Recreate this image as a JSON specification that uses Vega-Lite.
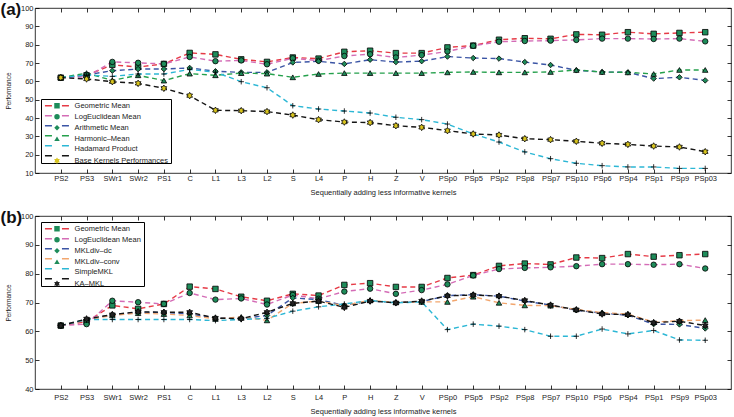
{
  "$schema": "https://vega.github.io/schema/vega-lite/v6.json",
  "padding": {"left": 0, "top": 0, "right": 0, "bottom": 0},
  "background": "white",
  "spacing": 11,
  "resolve": {"scale": {"color": "independent", "shape": "independent", "fill": "independent"}, "legend": {"color": "independent", "shape": "independent", "fill": "independent"}},
  "config": {
    "font": "Liberation Sans",
    "view": {"stroke": "#000", "strokeWidth": 0.8},
    "axis": {"grid": false, "domain": false, "tickColor": "#000", "tickWidth": 0.8, "tickSize": -4, "labelFont": "Liberation Sans", "labelFontSize": 7.5, "labelColor": "#222", "titleFont": "Liberation Sans", "titleFontWeight": "normal", "titleColor": "#222"},
    "legend": {"labelFont": "Liberation Sans", "labelFontSize": 7.5, "labelColor": "#222", "padding": 3, "rowPadding": 1, "symbolOffset": 9.25, "labelOffset": 13.8, "symbolSize": 30, "labelLimit": 200},
    "title": {"font": "Liberation Sans", "fontSize": 17, "fontWeight": "bold", "color": "#111", "anchor": "start", "frame": "bounds", "offset": 0}
  },
  "datasets": {
    "a": [
      {"k":"PS2","s":"Geometric Mean","v":62},{"k":"PS3","s":"Geometric Mean","v":63.3},{"k":"SWr1","s":"Geometric Mean","v":69},{"k":"SWr2","s":"Geometric Mean","v":67.8},{"k":"PS1","s":"Geometric Mean","v":69.5},{"k":"C","s":"Geometric Mean","v":75.5},{"k":"L1","s":"Geometric Mean","v":74.7},{"k":"L3","s":"Geometric Mean","v":72},{"k":"L2","s":"Geometric Mean","v":70.6},{"k":"S","s":"Geometric Mean","v":73},{"k":"L4","s":"Geometric Mean","v":72.4},{"k":"P","s":"Geometric Mean","v":76.1},{"k":"H","s":"Geometric Mean","v":76.7},{"k":"Z","s":"Geometric Mean","v":75.4},{"k":"V","s":"Geometric Mean","v":75.4},{"k":"PSp0","s":"Geometric Mean","v":78.5},{"k":"PSp5","s":"Geometric Mean","v":79.5},{"k":"PSp2","s":"Geometric Mean","v":82.7},{"k":"PSp8","s":"Geometric Mean","v":83.5},{"k":"PSp7","s":"Geometric Mean","v":83.2},{"k":"PSp10","s":"Geometric Mean","v":85.6},{"k":"PSp6","s":"Geometric Mean","v":85.4},{"k":"PSp4","s":"Geometric Mean","v":86.8},{"k":"PSp1","s":"Geometric Mean","v":85.9},{"k":"PSp9","s":"Geometric Mean","v":86.4},{"k":"PSp03","s":"Geometric Mean","v":86.8},
      {"k":"PS2","s":"LogEuclidean Mean","v":62},{"k":"PS3","s":"LogEuclidean Mean","v":62.5},{"k":"SWr1","s":"LogEuclidean Mean","v":70.6},{"k":"SWr2","s":"LogEuclidean Mean","v":70.1},{"k":"PS1","s":"LogEuclidean Mean","v":69.5},{"k":"C","s":"LogEuclidean Mean","v":73.3},{"k":"L1","s":"LogEuclidean Mean","v":71},{"k":"L3","s":"LogEuclidean Mean","v":71.4},{"k":"L2","s":"LogEuclidean Mean","v":69.3},{"k":"S","s":"LogEuclidean Mean","v":72.6},{"k":"L4","s":"LogEuclidean Mean","v":71.3},{"k":"P","s":"LogEuclidean Mean","v":73.8},{"k":"H","s":"LogEuclidean Mean","v":74.8},{"k":"Z","s":"LogEuclidean Mean","v":73},{"k":"V","s":"LogEuclidean Mean","v":74.3},{"k":"PSp0","s":"LogEuclidean Mean","v":76.3},{"k":"PSp5","s":"LogEuclidean Mean","v":79.4},{"k":"PSp2","s":"LogEuclidean Mean","v":81.6},{"k":"PSp8","s":"LogEuclidean Mean","v":82},{"k":"PSp7","s":"LogEuclidean Mean","v":82.2},{"k":"PSp10","s":"LogEuclidean Mean","v":82.6},{"k":"PSp6","s":"LogEuclidean Mean","v":83.3},{"k":"PSp4","s":"LogEuclidean Mean","v":83.3},{"k":"PSp1","s":"LogEuclidean Mean","v":83.1},{"k":"PSp9","s":"LogEuclidean Mean","v":83.3},{"k":"PSp03","s":"LogEuclidean Mean","v":81.8},
      {"k":"PS2","s":"Arithmetic Mean","v":62},{"k":"PS3","s":"Arithmetic Mean","v":63.5},{"k":"SWr1","s":"Arithmetic Mean","v":65.8},{"k":"SWr2","s":"Arithmetic Mean","v":66.7},{"k":"PS1","s":"Arithmetic Mean","v":66.7},{"k":"C","s":"Arithmetic Mean","v":67.3},{"k":"L1","s":"Arithmetic Mean","v":65.5},{"k":"L3","s":"Arithmetic Mean","v":64.9},{"k":"L2","s":"Arithmetic Mean","v":64.9},{"k":"S","s":"Arithmetic Mean","v":70.3},{"k":"L4","s":"Arithmetic Mean","v":70.9},{"k":"P","s":"Arithmetic Mean","v":69.5},{"k":"H","s":"Arithmetic Mean","v":71.8},{"k":"Z","s":"Arithmetic Mean","v":70.5},{"k":"V","s":"Arithmetic Mean","v":71},{"k":"PSp0","s":"Arithmetic Mean","v":73.5},{"k":"PSp5","s":"Arithmetic Mean","v":72.7},{"k":"PSp2","s":"Arithmetic Mean","v":72.4},{"k":"PSp8","s":"Arithmetic Mean","v":70.5},{"k":"PSp7","s":"Arithmetic Mean","v":68.9},{"k":"PSp10","s":"Arithmetic Mean","v":66},{"k":"PSp6","s":"Arithmetic Mean","v":65.1},{"k":"PSp4","s":"Arithmetic Mean","v":64.9},{"k":"PSp1","s":"Arithmetic Mean","v":61.5},{"k":"PSp9","s":"Arithmetic Mean","v":62.2},{"k":"PSp03","s":"Arithmetic Mean","v":60.5},
      {"k":"PS2","s":"Harmonic–Mean","v":62},{"k":"PS3","s":"Harmonic–Mean","v":64.5},{"k":"SWr1","s":"Harmonic–Mean","v":60.5},{"k":"SWr2","s":"Harmonic–Mean","v":63.3},{"k":"PS1","s":"Harmonic–Mean","v":60.4},{"k":"C","s":"Harmonic–Mean","v":64.2},{"k":"L1","s":"Harmonic–Mean","v":63.3},{"k":"L3","s":"Harmonic–Mean","v":64.5},{"k":"L2","s":"Harmonic–Mean","v":64.2},{"k":"S","s":"Harmonic–Mean","v":62.2},{"k":"L4","s":"Harmonic–Mean","v":64},{"k":"P","s":"Harmonic–Mean","v":64.5},{"k":"H","s":"Harmonic–Mean","v":64.5},{"k":"Z","s":"Harmonic–Mean","v":64.5},{"k":"V","s":"Harmonic–Mean","v":64.5},{"k":"PSp0","s":"Harmonic–Mean","v":64.9},{"k":"PSp5","s":"Harmonic–Mean","v":65.1},{"k":"PSp2","s":"Harmonic–Mean","v":64.9},{"k":"PSp8","s":"Harmonic–Mean","v":64.9},{"k":"PSp7","s":"Harmonic–Mean","v":65.1},{"k":"PSp10","s":"Harmonic–Mean","v":66.2},{"k":"PSp6","s":"Harmonic–Mean","v":65.1},{"k":"PSp4","s":"Harmonic–Mean","v":64.9},{"k":"PSp1","s":"Harmonic–Mean","v":64},{"k":"PSp9","s":"Harmonic–Mean","v":66.2},{"k":"PSp03","s":"Harmonic–Mean","v":66.2},
      {"k":"PS2","s":"Hadamard Product","v":62},{"k":"PS3","s":"Hadamard Product","v":63.5},{"k":"SWr1","s":"Hadamard Product","v":62.7},{"k":"SWr2","s":"Hadamard Product","v":64},{"k":"PS1","s":"Hadamard Product","v":64},{"k":"C","s":"Hadamard Product","v":66.5},{"k":"L1","s":"Hadamard Product","v":65},{"k":"L3","s":"Hadamard Product","v":59.8},{"k":"L2","s":"Hadamard Product","v":56.5},{"k":"S","s":"Hadamard Product","v":46.7},{"k":"L4","s":"Hadamard Product","v":44.9},{"k":"P","s":"Hadamard Product","v":43.8},{"k":"H","s":"Hadamard Product","v":42.7},{"k":"Z","s":"Hadamard Product","v":40.4},{"k":"V","s":"Hadamard Product","v":39.1},{"k":"PSp0","s":"Hadamard Product","v":36.7},{"k":"PSp5","s":"Hadamard Product","v":31.3},{"k":"PSp2","s":"Hadamard Product","v":26.9},{"k":"PSp8","s":"Hadamard Product","v":21.5},{"k":"PSp7","s":"Hadamard Product","v":17.8},{"k":"PSp10","s":"Hadamard Product","v":15.3},{"k":"PSp6","s":"Hadamard Product","v":14},{"k":"PSp4","s":"Hadamard Product","v":13.3},{"k":"PSp1","s":"Hadamard Product","v":13.3},{"k":"PSp9","s":"Hadamard Product","v":12.5},{"k":"PSp03","s":"Hadamard Product","v":12.5},
      {"k":"PS2","s":"Base Kernels Performances","v":62},{"k":"PS3","s":"Base Kernels Performances","v":61.3},{"k":"SWr1","s":"Base Kernels Performances","v":59.8},{"k":"SWr2","s":"Base Kernels Performances","v":58.9},{"k":"PS1","s":"Base Kernels Performances","v":56.2},{"k":"C","s":"Base Kernels Performances","v":52.2},{"k":"L1","s":"Base Kernels Performances","v":44.2},{"k":"L3","s":"Base Kernels Performances","v":44},{"k":"L2","s":"Base Kernels Performances","v":43.5},{"k":"S","s":"Base Kernels Performances","v":41.6},{"k":"L4","s":"Base Kernels Performances","v":39.1},{"k":"P","s":"Base Kernels Performances","v":37.8},{"k":"H","s":"Base Kernels Performances","v":37.5},{"k":"Z","s":"Base Kernels Performances","v":35.8},{"k":"V","s":"Base Kernels Performances","v":34.9},{"k":"PSp0","s":"Base Kernels Performances","v":33.1},{"k":"PSp5","s":"Base Kernels Performances","v":31.3},{"k":"PSp2","s":"Base Kernels Performances","v":30.7},{"k":"PSp8","s":"Base Kernels Performances","v":28.7},{"k":"PSp7","s":"Base Kernels Performances","v":28.2},{"k":"PSp10","s":"Base Kernels Performances","v":27.3},{"k":"PSp6","s":"Base Kernels Performances","v":26.2},{"k":"PSp4","s":"Base Kernels Performances","v":25.6},{"k":"PSp1","s":"Base Kernels Performances","v":24.7},{"k":"PSp9","s":"Base Kernels Performances","v":24.2},{"k":"PSp03","s":"Base Kernels Performances","v":21.6}
    ],
    "b": [
      {"k":"PS2","s":"Geometric Mean","v":62},{"k":"PS3","s":"Geometric Mean","v":63.3},{"k":"SWr1","s":"Geometric Mean","v":69},{"k":"SWr2","s":"Geometric Mean","v":67.8},{"k":"PS1","s":"Geometric Mean","v":69.5},{"k":"C","s":"Geometric Mean","v":75.5},{"k":"L1","s":"Geometric Mean","v":74.7},{"k":"L3","s":"Geometric Mean","v":72},{"k":"L2","s":"Geometric Mean","v":70.6},{"k":"S","s":"Geometric Mean","v":73},{"k":"L4","s":"Geometric Mean","v":72.4},{"k":"P","s":"Geometric Mean","v":76.1},{"k":"H","s":"Geometric Mean","v":76.7},{"k":"Z","s":"Geometric Mean","v":75.4},{"k":"V","s":"Geometric Mean","v":75.4},{"k":"PSp0","s":"Geometric Mean","v":78.5},{"k":"PSp5","s":"Geometric Mean","v":79.5},{"k":"PSp2","s":"Geometric Mean","v":82.7},{"k":"PSp8","s":"Geometric Mean","v":83.5},{"k":"PSp7","s":"Geometric Mean","v":83.2},{"k":"PSp10","s":"Geometric Mean","v":85.6},{"k":"PSp6","s":"Geometric Mean","v":85.4},{"k":"PSp4","s":"Geometric Mean","v":86.8},{"k":"PSp1","s":"Geometric Mean","v":85.9},{"k":"PSp9","s":"Geometric Mean","v":86.4},{"k":"PSp03","s":"Geometric Mean","v":86.8},
      {"k":"PS2","s":"LogEuclidean Mean","v":62},{"k":"PS3","s":"LogEuclidean Mean","v":62.5},{"k":"SWr1","s":"LogEuclidean Mean","v":70.6},{"k":"SWr2","s":"LogEuclidean Mean","v":70.1},{"k":"PS1","s":"LogEuclidean Mean","v":69.5},{"k":"C","s":"LogEuclidean Mean","v":73.3},{"k":"L1","s":"LogEuclidean Mean","v":71},{"k":"L3","s":"LogEuclidean Mean","v":71.4},{"k":"L2","s":"LogEuclidean Mean","v":69.3},{"k":"S","s":"LogEuclidean Mean","v":72.6},{"k":"L4","s":"LogEuclidean Mean","v":71.3},{"k":"P","s":"LogEuclidean Mean","v":73.8},{"k":"H","s":"LogEuclidean Mean","v":74.8},{"k":"Z","s":"LogEuclidean Mean","v":73},{"k":"V","s":"LogEuclidean Mean","v":74.3},{"k":"PSp0","s":"LogEuclidean Mean","v":76.3},{"k":"PSp5","s":"LogEuclidean Mean","v":79.4},{"k":"PSp2","s":"LogEuclidean Mean","v":81.6},{"k":"PSp8","s":"LogEuclidean Mean","v":82},{"k":"PSp7","s":"LogEuclidean Mean","v":82.2},{"k":"PSp10","s":"LogEuclidean Mean","v":82.6},{"k":"PSp6","s":"LogEuclidean Mean","v":83.3},{"k":"PSp4","s":"LogEuclidean Mean","v":83.3},{"k":"PSp1","s":"LogEuclidean Mean","v":83.1},{"k":"PSp9","s":"LogEuclidean Mean","v":83.3},{"k":"PSp03","s":"LogEuclidean Mean","v":81.8},
      {"k":"PS2","s":"MKLdiv–dc","v":62},{"k":"PS3","s":"MKLdiv–dc","v":64},{"k":"SWr1","s":"MKLdiv–dc","v":65.8},{"k":"SWr2","s":"MKLdiv–dc","v":66.5},{"k":"PS1","s":"MKLdiv–dc","v":66.6},{"k":"C","s":"MKLdiv–dc","v":66},{"k":"L1","s":"MKLdiv–dc","v":64.6},{"k":"L3","s":"MKLdiv–dc","v":64.4},{"k":"L2","s":"MKLdiv–dc","v":65.5},{"k":"S","s":"MKLdiv–dc","v":71.6},{"k":"L4","s":"MKLdiv–dc","v":71},{"k":"P","s":"MKLdiv–dc","v":69},{"k":"H","s":"MKLdiv–dc","v":70.5},{"k":"Z","s":"MKLdiv–dc","v":70},{"k":"V","s":"MKLdiv–dc","v":70.3},{"k":"PSp0","s":"MKLdiv–dc","v":72.4},{"k":"PSp5","s":"MKLdiv–dc","v":72.7},{"k":"PSp2","s":"MKLdiv–dc","v":72.2},{"k":"PSp8","s":"MKLdiv–dc","v":70.5},{"k":"PSp7","s":"MKLdiv–dc","v":69.1},{"k":"PSp10","s":"MKLdiv–dc","v":67.3},{"k":"PSp6","s":"MKLdiv–dc","v":66.3},{"k":"PSp4","s":"MKLdiv–dc","v":65.6},{"k":"PSp1","s":"MKLdiv–dc","v":62.5},{"k":"PSp9","s":"MKLdiv–dc","v":62.4},{"k":"PSp03","s":"MKLdiv–dc","v":61},
      {"k":"PS2","s":"MKLdiv–conv","v":62},{"k":"PS3","s":"MKLdiv–conv","v":64},{"k":"SWr1","s":"MKLdiv–conv","v":65.5},{"k":"SWr2","s":"MKLdiv–conv","v":66.3},{"k":"PS1","s":"MKLdiv–conv","v":66},{"k":"C","s":"MKLdiv–conv","v":65.5},{"k":"L1","s":"MKLdiv–conv","v":64.3},{"k":"L3","s":"MKLdiv–conv","v":65},{"k":"L2","s":"MKLdiv–conv","v":63.8},{"k":"S","s":"MKLdiv–conv","v":69.7},{"k":"L4","s":"MKLdiv–conv","v":70.5},{"k":"P","s":"MKLdiv–conv","v":68.9},{"k":"H","s":"MKLdiv–conv","v":70.8},{"k":"Z","s":"MKLdiv–conv","v":70},{"k":"V","s":"MKLdiv–conv","v":70.2},{"k":"PSp0","s":"MKLdiv–conv","v":70.2},{"k":"PSp5","s":"MKLdiv–conv","v":72},{"k":"PSp2","s":"MKLdiv–conv","v":69.9},{"k":"PSp8","s":"MKLdiv–conv","v":69},{"k":"PSp7","s":"MKLdiv–conv","v":68.9},{"k":"PSp10","s":"MKLdiv–conv","v":67.6},{"k":"PSp6","s":"MKLdiv–conv","v":66.5},{"k":"PSp4","s":"MKLdiv–conv","v":66},{"k":"PSp1","s":"MKLdiv–conv","v":63.2},{"k":"PSp9","s":"MKLdiv–conv","v":63.7},{"k":"PSp03","s":"MKLdiv–conv","v":63.9},
      {"k":"PS2","s":"SimpleMKL","v":62},{"k":"PS3","s":"SimpleMKL","v":64.1},{"k":"SWr1","s":"SimpleMKL","v":64.1},{"k":"SWr2","s":"SimpleMKL","v":64.1},{"k":"PS1","s":"SimpleMKL","v":64.1},{"k":"C","s":"SimpleMKL","v":64.1},{"k":"L1","s":"SimpleMKL","v":63.7},{"k":"L3","s":"SimpleMKL","v":64.1},{"k":"L2","s":"SimpleMKL","v":64.5},{"k":"S","s":"SimpleMKL","v":67},{"k":"L4","s":"SimpleMKL","v":68.5},{"k":"P","s":"SimpleMKL","v":69.5},{"k":"H","s":"SimpleMKL","v":70.7},{"k":"Z","s":"SimpleMKL","v":69.9},{"k":"V","s":"SimpleMKL","v":70.2},{"k":"PSp0","s":"SimpleMKL","v":60.6},{"k":"PSp5","s":"SimpleMKL","v":62.5},{"k":"PSp2","s":"SimpleMKL","v":61.8},{"k":"PSp8","s":"SimpleMKL","v":60.6},{"k":"PSp7","s":"SimpleMKL","v":58.3},{"k":"PSp10","s":"SimpleMKL","v":58.3},{"k":"PSp6","s":"SimpleMKL","v":60.8},{"k":"PSp4","s":"SimpleMKL","v":59.1},{"k":"PSp1","s":"SimpleMKL","v":60.3},{"k":"PSp9","s":"SimpleMKL","v":57},{"k":"PSp03","s":"SimpleMKL","v":56.9},
      {"k":"PS2","s":"KA–MKL","v":62},{"k":"PS3","s":"KA–MKL","v":64.3},{"k":"SWr1","s":"KA–MKL","v":65.8},{"k":"SWr2","s":"KA–MKL","v":66.8},{"k":"PS1","s":"KA–MKL","v":66.6},{"k":"C","s":"KA–MKL","v":66.6},{"k":"L1","s":"KA–MKL","v":64.6},{"k":"L3","s":"KA–MKL","v":64.4},{"k":"L2","s":"KA–MKL","v":66.6},{"k":"S","s":"KA–MKL","v":69.7},{"k":"L4","s":"KA–MKL","v":70.5},{"k":"P","s":"KA–MKL","v":68.3},{"k":"H","s":"KA–MKL","v":70.5},{"k":"Z","s":"KA–MKL","v":69.9},{"k":"V","s":"KA–MKL","v":70.5},{"k":"PSp0","s":"KA–MKL","v":72.3},{"k":"PSp5","s":"KA–MKL","v":72.6},{"k":"PSp2","s":"KA–MKL","v":72.2},{"k":"PSp8","s":"KA–MKL","v":70.7},{"k":"PSp7","s":"KA–MKL","v":69.1},{"k":"PSp10","s":"KA–MKL","v":67.5},{"k":"PSp6","s":"KA–MKL","v":66},{"k":"PSp4","s":"KA–MKL","v":65.8},{"k":"PSp1","s":"KA–MKL","v":63},{"k":"PSp9","s":"KA–MKL","v":63.5},{"k":"PSp03","s":"KA–MKL","v":62}
    ]
  },
  "vconcat": [
    {
      "width": 696, "height": 165,
      "title": {"text": "(a)", "dy": 19, "dx": -5},
      "data": {"name": "a"},
      "resolve": {"axis": {"x": "independent", "y": "independent"}},
      "layer": [
        {
          "mark": {"type": "line", "strokeDash": [5, 3.5], "strokeWidth": 1.4},
          "encoding": {
            "x": {"field": "k", "type": "ordinal", "scale": {"type": "point", "padding": 1, "domain": ["PS2","PS3","SWr1","SWr2","PS1","C","L1","L3","L2","S","L4","P","H","Z","V","PSp0","PSp5","PSp2","PSp8","PSp7","PSp10","PSp6","PSp4","PSp1","PSp9","PSp03"]}, "axis": {"orient": "bottom", "title": "Sequentially adding less informative kernels", "labelAngle": 0, "labelPadding": 5.5, "titlePadding": 6.5, "titleFontSize": 7.5, "labelOverlap": false}},
            "y": {"field": "v", "type": "quantitative", "scale": {"domain": [10, 100], "nice": false, "zero": false}, "axis": {"orient": "left", "title": "Performance", "values": [10,20,30,40,50,60,70,80,90,100], "labelPadding": 6, "titlePadding": 9, "titleFontSize": 6.5}},
            "color": {"field": "s", "type": "nominal", "sort": ["Geometric Mean","LogEuclidean Mean","Arithmetic Mean","Harmonic–Mean","Hadamard Product","Base Kernels Performances"], "scale": {"range": ["#e63a46","#d46cb6","#3b55a5","#25a04c","#2cb7d5","#151515"]},
              "legend": {"orient": "none", "legendX": 6, "legendY": 91, "title": null, "symbolType": "M-4.4,0H4.4", "symbolSize": 30, "symbolDash": [7, 10], "symbolStrokeWidth": 1.5, "fillColor": "white", "strokeColor": "#000", "labelOpacity": 0}}
          }
        },
        {
          "mark": {"type": "point", "filled": true, "stroke": "#000", "strokeWidth": 0.8, "size": 30, "opacity": 1},
          "encoding": {
            "x": {"field": "k", "type": "ordinal", "axis": {"orient": "top", "labels": false, "title": null}},
            "y": {"field": "v", "type": "quantitative", "axis": {"orient": "right", "labels": false, "title": null, "values": [10,20,30,40,50,60,70,80,90,100]}},
            "shape": {"field": "s", "type": "nominal", "scale": {"domain": ["Geometric Mean","LogEuclidean Mean","Arithmetic Mean","Harmonic–Mean","Hadamard Product","Base Kernels Performances"], "range": ["square","circle","diamond","triangle-up","M-1,0H1M0,-1V1","M0,-1.2L0.35,-0.6L1.04,-0.6L0.69,0L1.04,0.6L0.35,0.6L0,1.2L-0.35,0.6L-1.04,0.6L-0.69,0L-1.04,-0.6L-0.35,-0.6Z"]},
              "legend": {"orient": "none", "legendX": 6, "legendY": 91, "title": null, "symbolSize": 30, "symbolStrokeWidth": 0.8, "symbolStrokeColor": "#000", "zindex": 1}},
            "fill": {"field": "s", "type": "nominal", "scale": {"domain": ["Geometric Mean","LogEuclidean Mean","Arithmetic Mean","Harmonic–Mean","Hadamard Product","Base Kernels Performances"], "range": ["#1e8c5a","#1e8c5a","#1e8c5a","#1e8c5a","#1e8c5a","#d8c41e"]},
              "legend": {"orient": "none", "legendX": 6, "legendY": 91, "title": null, "symbolSize": 30, "symbolStrokeWidth": 0.8, "symbolStrokeColor": "#000", "zindex": 1}}
          }
        }
      ]
    },
    {
      "width": 696, "height": 173,
      "title": {"text": "(b)", "dy": 19, "dx": -5},
      "data": {"name": "b"},
      "resolve": {"axis": {"x": "independent", "y": "independent"}},
      "layer": [
        {
          "mark": {"type": "line", "strokeDash": [5, 3.5], "strokeWidth": 1.4},
          "encoding": {
            "x": {"field": "k", "type": "ordinal", "scale": {"type": "point", "padding": 1, "domain": ["PS2","PS3","SWr1","SWr2","PS1","C","L1","L3","L2","S","L4","P","H","Z","V","PSp0","PSp5","PSp2","PSp8","PSp7","PSp10","PSp6","PSp4","PSp1","PSp9","PSp03"]}, "axis": {"orient": "bottom", "title": "Sequentially adding less informative kernels", "labelAngle": 0, "labelPadding": 8, "titlePadding": 7, "titleFontSize": 7.5, "labelOverlap": false}},
            "y": {"field": "v", "type": "quantitative", "scale": {"domain": [40, 100], "nice": false, "zero": false}, "axis": {"orient": "left", "title": "Performance", "values": [40,50,60,70,80,90,100], "labelPadding": 6, "titlePadding": 9, "titleFontSize": 6.5}},
            "color": {"field": "s", "type": "nominal", "sort": ["Geometric Mean","LogEuclidean Mean","MKLdiv–dc","MKLdiv–conv","SimpleMKL","KA–MKL"], "scale": {"range": ["#e63a46","#d46cb6","#3b55a5","#f2a66e","#2cb7d5","#151515"]},
              "legend": {"orient": "none", "legendX": 6, "legendY": 6, "title": null, "symbolType": "M-4.4,0H4.4", "symbolSize": 30, "symbolDash": [7, 10], "symbolStrokeWidth": 1.5, "fillColor": "white", "strokeColor": "#000", "labelOpacity": 0}}
          }
        },
        {
          "mark": {"type": "point", "filled": true, "stroke": "#000", "strokeWidth": 0.8, "size": 30, "opacity": 1},
          "encoding": {
            "x": {"field": "k", "type": "ordinal", "axis": {"orient": "top", "labels": false, "title": null}},
            "y": {"field": "v", "type": "quantitative", "axis": {"orient": "right", "labels": false, "title": null, "values": [40,50,60,70,80,90,100]}},
            "shape": {"field": "s", "type": "nominal", "scale": {"domain": ["Geometric Mean","LogEuclidean Mean","MKLdiv–dc","MKLdiv–conv","SimpleMKL","KA–MKL"], "range": ["square","circle","diamond","triangle-up","M-1,0H1M0,-1V1","M0,-1.2L0.35,-0.6L1.04,-0.6L0.69,0L1.04,0.6L0.35,0.6L0,1.2L-0.35,0.6L-1.04,0.6L-0.69,0L-1.04,-0.6L-0.35,-0.6Z"]},
              "legend": {"orient": "none", "legendX": 6, "legendY": 6, "title": null, "symbolSize": 30, "symbolStrokeWidth": 0.8, "symbolStrokeColor": "#000", "zindex": 1}},
            "fill": {"field": "s", "type": "nominal", "scale": {"domain": ["Geometric Mean","LogEuclidean Mean","MKLdiv–dc","MKLdiv–conv","SimpleMKL","KA–MKL"], "range": ["#1e8c5a","#1e8c5a","#1e8c5a","#1e8c5a","#1e8c5a","#222222"]},
              "legend": {"orient": "none", "legendX": 6, "legendY": 6, "title": null, "symbolSize": 30, "symbolStrokeWidth": 0.8, "symbolStrokeColor": "#000", "zindex": 1}}
          }
        }
      ]
    }
  ]
}
